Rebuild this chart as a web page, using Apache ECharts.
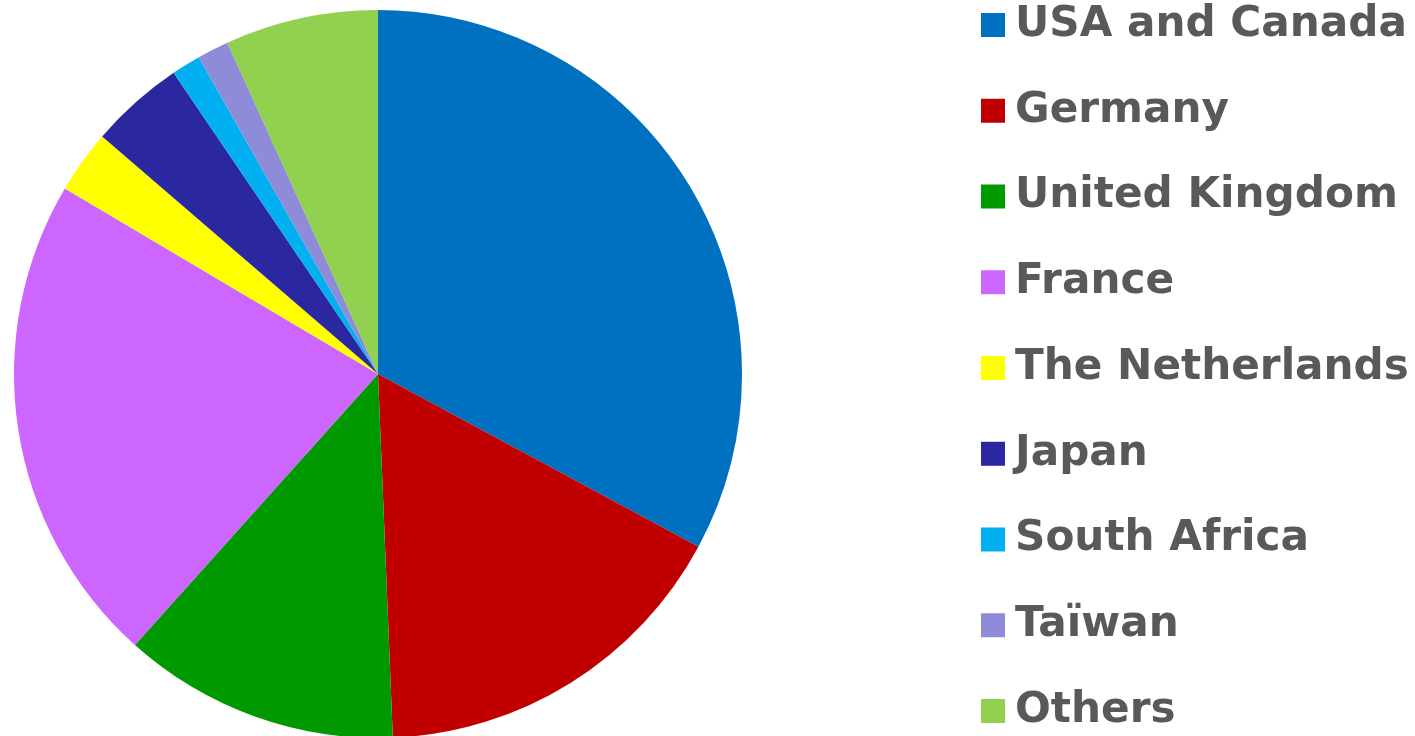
<!DOCTYPE html>
<html><head><meta charset="utf-8">
<script src="https://cdn.jsdelivr.net/npm/echarts@6/dist/echarts.min.js"></script>
<style>html,body{margin:0;padding:0;background:#fff}#c{width:1415px;height:736px}</style>
</head><body><div id="c"></div>
<script>
const categories = ["USA and Canada","Germany","United Kingdom","France","The Netherlands","Japan","South Africa","Taïwan","Others"];
const values = [32.9, 16.5, 12.3, 21.9, 2.8, 4.2, 1.3, 1.4, 6.8];
const colors = ["#0070C0","#C00000","#009900","#CC66FF","#FFFF00","#2A27A0","#00B0F0","#8E8CD8","#92D050"];
const chart = echarts.init(document.getElementById('c'), null, {renderer:'canvas'});
chart.setOption({
  animation:false,
  color: colors,
  legend:{
    orient:'vertical', left:981, top:1, height:800, padding:0,
    icon:'rect', itemWidth:24, itemHeight:24, itemGap:37.75,
    textStyle:{fontFamily:'DejaVu Sans', fontWeight:'bold', fontSize:42.2, color:'#595959', lineHeight:48, padding:[0,0,0,5]},
    data: categories
  },
  series:[{
    type:'pie', center:[378,374], radius:[0,364], startAngle:90, clockwise:true,
    label:{show:false}, labelLine:{show:false}, silent:true,
    itemStyle:{borderWidth:0},
    data: categories.map((n,i)=>({name:n, value:values[i]}))
  }]
});
</script></body></html>
